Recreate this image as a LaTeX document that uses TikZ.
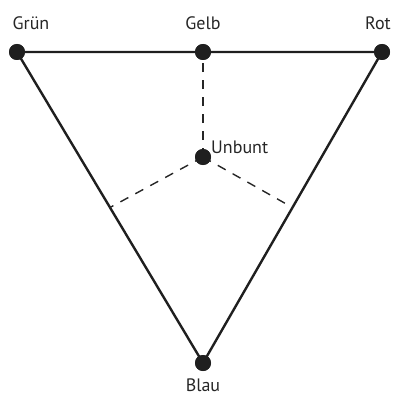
\documentclass[tikz,border=0pt]{standalone}
\usepackage{fontspec}
\setmainfont{PT Sans}
\usetikzlibrary{calc}
\begin{document}
\begin{tikzpicture}[x=1pt,y=-1pt,
  dot/.style={circle,fill=black!88,inner sep=0pt,minimum size=16pt},
  lbl/.style={font=\fontsize{18}{20}\selectfont,text=black!85,inner sep=0pt},
  edge/.style={line width=2.4pt,draw=black!88},
  dashline/.style={line width=1.4pt,draw=black!85,dash pattern=on 9pt off 8pt}]
\useasboundingbox (0,0) rectangle (392,396);
\node[dot] (gruen) at (17,52) {};
\node[dot] (gelb) at (203,52) {};
\node[dot] (rot) at (382,52) {};
\node[dot] (blau) at (203,363) {};
\node[dot] (unbunt) at (203,157) {};
\coordinate (lm) at ($(gruen)!0.5!(blau)$);
\coordinate (rm) at ($(rot)!0.5!(blau)$);
\draw[edge] (gruen.center) -- (rot.center) -- (blau.center) -- cycle;
\draw[dashline] (unbunt.center) -- (gelb.center);
\draw[dashline] (unbunt.center) -- (lm);
\draw[dashline] (unbunt.center) -- (rm);
\node[dot] at (gruen) {};
\node[dot] at (gelb) {};
\node[dot] at (rot) {};
\node[dot] at (blau) {};
\node[dot] at (unbunt) {};
\node[lbl] (tgruen) at (31,23) {Grün};
\node[lbl] (tgelb) at (203,23) {Gelb};
\node[lbl,anchor=east] (trot) at (391,23) {Rot};
\node[lbl,anchor=west] (tunbunt) at (211,147) {Unbunt};
\node[lbl] (tblau) at (203,385) {Blau};
\end{tikzpicture}
\end{document}
